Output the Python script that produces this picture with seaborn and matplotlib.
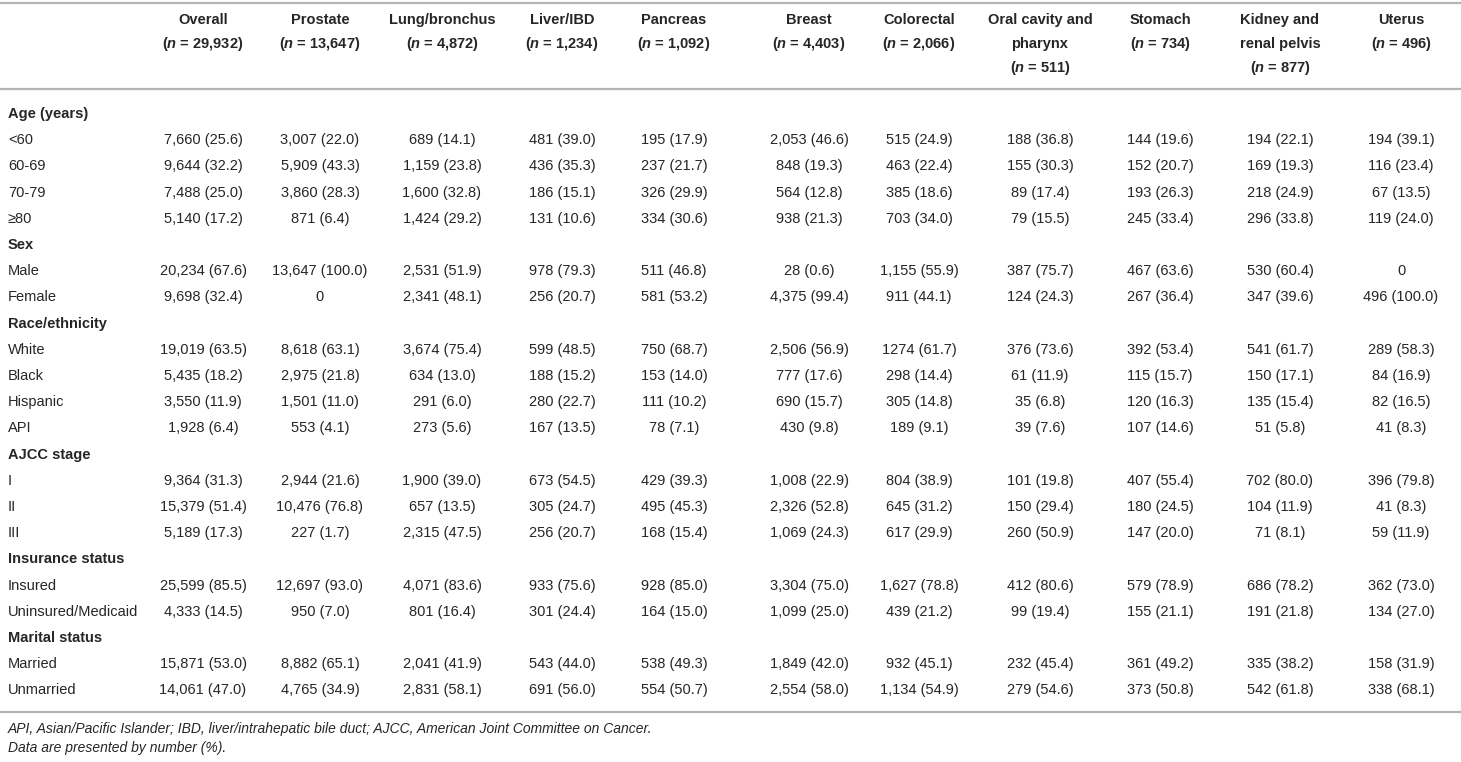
import matplotlib
matplotlib.use("Agg")
from matplotlib import pyplot as plt
import seaborn as sns

# column headers (name lines + n)
col_names = [["Overall"], ["Prostate"], ["Lung/bronchus"], ["Liver/IBD"], ["Pancreas"],
             ["Breast"], ["Colorectal"], ["Oral cavity and", "pharynx"], ["Stomach"],
             ["Kidney and", "renal pelvis"], ["Uterus"]]
col_n = ["29,932", "13,647", "4,872", "1,234", "1,092", "4,403", "2,066", "511", "734", "877", "496"]

# table body, one list per section
age_labels = ["<60", "60-69", "70-79", "\u226580"]
age_values = [
    ["7,660 (25.6)", "3,007 (22.0)", "689 (14.1)", "481 (39.0)", "195 (17.9)", "2,053 (46.6)", "515 (24.9)", "188 (36.8)", "144 (19.6)", "194 (22.1)", "194 (39.1)"],
    ["9,644 (32.2)", "5,909 (43.3)", "1,159 (23.8)", "436 (35.3)", "237 (21.7)", "848 (19.3)", "463 (22.4)", "155 (30.3)", "152 (20.7)", "169 (19.3)", "116 (23.4)"],
    ["7,488 (25.0)", "3,860 (28.3)", "1,600 (32.8)", "186 (15.1)", "326 (29.9)", "564 (12.8)", "385 (18.6)", "89 (17.4)", "193 (26.3)", "218 (24.9)", "67 (13.5)"],
    ["5,140 (17.2)", "871 (6.4)", "1,424 (29.2)", "131 (10.6)", "334 (30.6)", "938 (21.3)", "703 (34.0)", "79 (15.5)", "245 (33.4)", "296 (33.8)", "119 (24.0)"],
]
sex_labels = ["Male", "Female"]
sex_values = [
    ["20,234 (67.6)", "13,647 (100.0)", "2,531 (51.9)", "978 (79.3)", "511 (46.8)", "28 (0.6)", "1,155 (55.9)", "387 (75.7)", "467 (63.6)", "530 (60.4)", "0"],
    ["9,698 (32.4)", "0", "2,341 (48.1)", "256 (20.7)", "581 (53.2)", "4,375 (99.4)", "911 (44.1)", "124 (24.3)", "267 (36.4)", "347 (39.6)", "496 (100.0)"],
]
race_labels = ["White", "Black", "Hispanic", "API"]
race_values = [
    ["19,019 (63.5)", "8,618 (63.1)", "3,674 (75.4)", "599 (48.5)", "750 (68.7)", "2,506 (56.9)", "1274 (61.7)", "376 (73.6)", "392 (53.4)", "541 (61.7)", "289 (58.3)"],
    ["5,435 (18.2)", "2,975 (21.8)", "634 (13.0)", "188 (15.2)", "153 (14.0)", "777 (17.6)", "298 (14.4)", "61 (11.9)", "115 (15.7)", "150 (17.1)", "84 (16.9)"],
    ["3,550 (11.9)", "1,501 (11.0)", "291 (6.0)", "280 (22.7)", "111 (10.2)", "690 (15.7)", "305 (14.8)", "35 (6.8)", "120 (16.3)", "135 (15.4)", "82 (16.5)"],
    ["1,928 (6.4)", "553 (4.1)", "273 (5.6)", "167 (13.5)", "78 (7.1)", "430 (9.8)", "189 (9.1)", "39 (7.6)", "107 (14.6)", "51 (5.8)", "41 (8.3)"],
]
stage_labels = ["I", "II", "III"]
stage_values = [
    ["9,364 (31.3)", "2,944 (21.6)", "1,900 (39.0)", "673 (54.5)", "429 (39.3)", "1,008 (22.9)", "804 (38.9)", "101 (19.8)", "407 (55.4)", "702 (80.0)", "396 (79.8)"],
    ["15,379 (51.4)", "10,476 (76.8)", "657 (13.5)", "305 (24.7)", "495 (45.3)", "2,326 (52.8)", "645 (31.2)", "150 (29.4)", "180 (24.5)", "104 (11.9)", "41 (8.3)"],
    ["5,189 (17.3)", "227 (1.7)", "2,315 (47.5)", "256 (20.7)", "168 (15.4)", "1,069 (24.3)", "617 (29.9)", "260 (50.9)", "147 (20.0)", "71 (8.1)", "59 (11.9)"],
]
insurance_labels = ["Insured", "Uninsured/Medicaid"]
insurance_values = [
    ["25,599 (85.5)", "12,697 (93.0)", "4,071 (83.6)", "933 (75.6)", "928 (85.0)", "3,304 (75.0)", "1,627 (78.8)", "412 (80.6)", "579 (78.9)", "686 (78.2)", "362 (73.0)"],
    ["4,333 (14.5)", "950 (7.0)", "801 (16.4)", "301 (24.4)", "164 (15.0)", "1,099 (25.0)", "439 (21.2)", "99 (19.4)", "155 (21.1)", "191 (21.8)", "134 (27.0)"],
]
marital_labels = ["Married", "Unmarried"]
marital_values = [
    ["15,871 (53.0)", "8,882 (65.1)", "2,041 (41.9)", "543 (44.0)", "538 (49.3)", "1,849 (42.0)", "932 (45.1)", "232 (45.4)", "361 (49.2)", "335 (38.2)", "158 (31.9)"],
    ["14,061 (47.0)", "4,765 (34.9)", "2,831 (58.1)", "691 (56.0)", "554 (50.7)", "2,554 (58.0)", "1,134 (54.9)", "279 (54.6)", "373 (50.8)", "542 (61.8)", "338 (68.1)"],
]
sections = [
    ("Age (years)", age_labels, age_values),
    ("Sex", sex_labels, sex_values),
    ("Race/ethnicity", race_labels, race_values),
    ("AJCC stage", stage_labels, stage_values),
    ("Insurance status", insurance_labels, insurance_values),
    ("Marital status", marital_labels, marital_values),
]
footnotes = ["API, Asian/Pacific Islander; IBD, liver/intrahepatic bile duct; AJCC, American Joint Committee on Cancer.",
             "Data are presented by number (%)."]

sns.set_theme(style="white")
plt.rcParams['font.family'] = ['Liberation Sans', 'DejaVu Sans']
plt.rcParams['mathtext.fontset'] = 'custom'
plt.rcParams['mathtext.it'] = 'Liberation Sans:italic:bold'
plt.rcParams['mathtext.rm'] = 'Liberation Sans:bold'

fig = plt.figure(figsize=(14.61, 7.62), dpi=100)
ax = fig.add_axes([0, 0, 1, 1])
ax.set_xlim(0, 1461)
ax.set_ylim(762, 0)
ax.axis("off")

# layout (pixel-ish units)
col_x = [203, 320, 442, 562, 674, 809, 919, 1040, 1160, 1280, 1401]
label_x = 8
head_y0, head_dy = 20, 24
body_y0, body_dy = 114, 26.2
fs = 10.5
txt_color = "#262626"
rule_color = "#b4b4b4"

ax.axhline(3, color=rule_color, lw=1.6)
ax.axhline(89, color=rule_color, lw=1.6)
ax.axhline(712, color=rule_color, lw=1.6)

for x, names, n in zip(col_x, col_names, col_n):
    lines = names + [r"($n$ = " + n + ")"]
    for k, line in enumerate(lines):
        ax.text(x, head_y0 + k * head_dy, line, ha="center", va="center",
                fontsize=fs, fontweight="bold", color=txt_color)

row = 0
for title, labels, values in sections:
    y = body_y0 + row * body_dy
    ax.text(label_x, y, title, ha="left", va="center", fontsize=fs,
            fontweight="bold", color=txt_color)
    row += 1
    for lab, vals in zip(labels, values):
        y = body_y0 + row * body_dy
        ax.text(label_x, y, lab, ha="left", va="center", fontsize=fs, color=txt_color)
        for x, v in zip(col_x, vals):
            ax.text(x, y, v, ha="center", va="center", fontsize=fs, color=txt_color)
        row += 1

for k, note in enumerate(footnotes):
    ax.text(label_x, 729 + k * 19, note, ha="left", va="center", fontsize=fs - 0.5,
            style="italic", color=txt_color)

fig.savefig("out.png", dpi=100)
